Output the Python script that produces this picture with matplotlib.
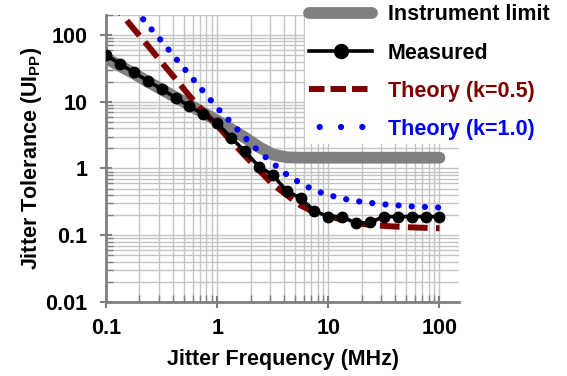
import matplotlib
matplotlib.use("Agg")
import matplotlib.pyplot as plt
from matplotlib.lines import Line2D
from matplotlib.ticker import LogLocator, FixedLocator, FixedFormatter, NullFormatter

plt.rcParams['font.family'] = ['Liberation Sans', 'DejaVu Sans']
plt.rcParams['font.weight'] = 'bold'
plt.rcParams['mathtext.fontset'] = 'custom'
plt.rcParams['mathtext.rm'] = 'Liberation Sans:bold'
plt.rcParams['mathtext.bf'] = 'Liberation Sans:bold'

# jitter frequency grid (MHz), 8 points per decade
freq = [0.1, 0.133, 0.178, 0.237, 0.316, 0.422, 0.562, 0.75, 1.0, 1.33, 1.78,
        2.37, 3.16, 4.22, 5.62, 7.5, 10, 13.3, 17.8, 23.7, 31.6, 42.2, 56.2, 75, 100]

instrument = [45, 34.5, 26.5, 20, 15.3, 11.7, 9.0, 6.8, 5.2, 3.9, 2.9,
              2.1, 1.62, 1.47, 1.45, 1.45, 1.45, 1.45, 1.45, 1.45, 1.45, 1.45, 1.45, 1.45, 1.45]

measured = [50, 37, 27.5, 20.5, 15.5, 11.5, 8.6, 6.5, 4.8, 2.9, 1.8,
            1.07, 0.80, 0.46, 0.36, 0.23, 0.19, 0.19, 0.15, 0.155, 0.19, 0.19, 0.19, 0.19, 0.19]

theory_05 = [390, 220, 123, 70, 39, 22, 12.3, 7.2, 4.4, 2.6, 1.55,
             0.95, 0.58, 0.40, 0.28, 0.22, 0.195, 0.17, 0.152, 0.143, 0.138, 0.134, 0.131, 0.129, 0.127]

theory_10 = [800, 450, 255, 142, 81, 45, 25.5, 14.3, 8.1, 4.9, 2.9,
             1.8, 1.2, 0.81, 0.6, 0.47, 0.40, 0.355, 0.325, 0.305, 0.29, 0.28, 0.27, 0.265, 0.26]

labels = ['Instrument limit', 'Measured', 'Theory (k=0.5)', 'Theory (k=1.0)']
GRAY, RED, BLUE = '#808080', '#800000', '#0000ff'
FS = 15.5

fig = plt.figure(figsize=(5.67, 3.76), dpi=100)
ax = fig.add_axes([0.187, 0.197, 0.6226, 0.7633])

ax.plot(freq, instrument, color=GRAY, lw=8.5, solid_capstyle='round', zorder=2)
ax.plot(freq, measured, color='black', lw=2.6, marker='o', ms=7.5, zorder=4)
ax.plot(freq, theory_05, color=RED, lw=4.3, linestyle=(0, (3.3, 1.4)), zorder=3)
ax.plot(freq, theory_10, color=BLUE, lw=4.5, linestyle=(0, (0.01, 2.1)),
        dash_capstyle='round', zorder=3)

ax.set_xscale('log')
ax.set_yscale('log')
ax.set_xlim(0.1, 150)
ax.set_ylim(0.01, 200)

ax.xaxis.set_major_locator(FixedLocator([0.1, 1, 10, 100]))
ax.xaxis.set_major_formatter(FixedFormatter(['0.1', '1', '10', '100']))
ax.yaxis.set_major_locator(FixedLocator([0.01, 0.1, 1, 10, 100]))
ax.yaxis.set_major_formatter(FixedFormatter(['0.01', '0.1', '1', '10', '100']))
ax.xaxis.set_minor_locator(LogLocator(base=10, subs=range(2, 10), numticks=20))
ax.yaxis.set_minor_locator(LogLocator(base=10, subs=range(2, 10), numticks=20))
ax.xaxis.set_minor_formatter(NullFormatter())
ax.yaxis.set_minor_formatter(NullFormatter())

ax.grid(True, which='both', color='#c4c4c4', lw=1)
ax.set_axisbelow(True)
for s in ['top', 'right']:
    ax.spines[s].set_visible(False)
for s in ['left', 'bottom']:
    ax.spines[s].set_color(GRAY)
    ax.spines[s].set_linewidth(2)

ax.tick_params(which='major', direction='inout', length=9, width=1.5, color=GRAY,
               labelsize=FS)
ax.tick_params(axis='x', which='major', pad=7)
ax.tick_params(axis='y', which='major', pad=9)
ax.tick_params(which='minor', direction='in', length=5, width=1, color=GRAY)

ax.set_xlabel('Jitter Frequency (MHz)', fontsize=FS, fontweight='bold', labelpad=7)
ax.set_ylabel(r'Jitter Tolerance (UI$_\mathbf{PP}$)', fontsize=FS, fontweight='bold', labelpad=1)

# legend handles drawn with their own dash spacing, like the original
handles = [
    Line2D([], [], color=GRAY, lw=8.5, solid_capstyle='round'),
    Line2D([], [], color='black', lw=2.6, marker='o', ms=10, markevery=[1]),
    Line2D([], [], color=RED, lw=4.3, linestyle=(0, (2.6, 1.0))),
    Line2D([], [], color=BLUE, lw=4.5, linestyle=(1.7, (0.01, 3.4)), dash_capstyle='round'),
]
leg = ax.legend(handles, labels, loc='upper left', bbox_to_anchor=(305 / 567, 1.0),
                bbox_transform=fig.transFigure, fontsize=FS, frameon=True, framealpha=1,
                edgecolor='none', fancybox=False, handlelength=2.9, handletextpad=0.75,
                labelspacing=0.8, borderpad=0.2, borderaxespad=0)
leg.set_zorder(10)
for txt, c in zip(leg.get_texts(), ['black', 'black', RED, BLUE]):
    txt.set_color(c)

fig.savefig('out.png', dpi=100)
